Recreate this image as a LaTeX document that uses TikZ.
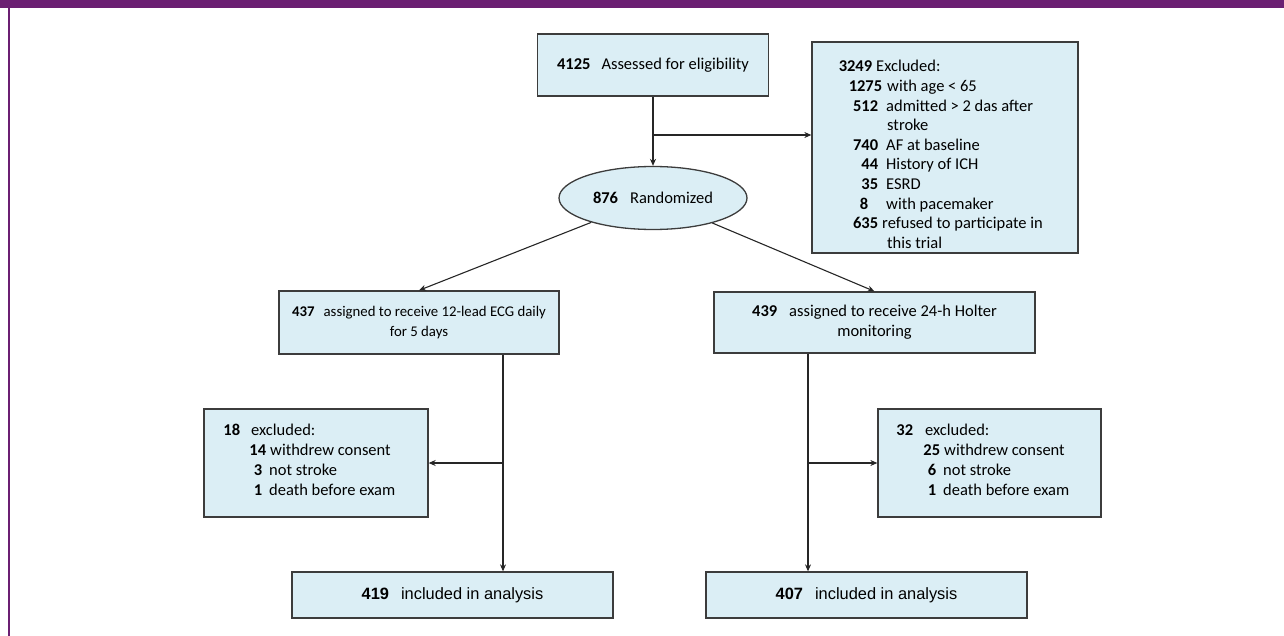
\documentclass[tikz,border=0pt]{standalone}
\usepackage{fontspec}
\setmainfont{Carlito}
\newfontfamily\arialf{Liberation Sans}
\usetikzlibrary{arrows.meta,shapes.geometric}
\definecolor{boxfill}{HTML}{DBEEF5}
\definecolor{boxdraw}{HTML}{3C3C3C}
\definecolor{purp}{HTML}{6B1F72}
\begin{document}
\begin{tikzpicture}[x=1pt,y=-1pt,
  box/.style={draw=boxdraw, line width=1.3pt, fill=boxfill, inner sep=0pt, align=center,
              font=\fontsize{16.5}{19.8}\selectfont},
  conn/.style={draw=black!85, line width=1.1pt},
  arr/.style={conn, -{Stealth[length=7pt,width=6pt]}},
  txt/.style={anchor=base west, inner sep=0pt, font=\fontsize{16.5}{19.8}\selectfont}]
\useasboundingbox (0,0) rectangle (1284,636);
\fill[purp] (0,0) rectangle (1284,8);
\fill[purp] (8,8) rectangle (10,636);

% boxes
\node[box, minimum width=231pt, minimum height=62pt] (A) at (653,65)
  {\textbf{4125}\hspace{11pt}Assessed for eligibility};
\node[box, ellipse, minimum width=188pt, minimum height=63pt] (rand) at (653,198)
  {\textbf{876}\hspace{12pt}Randomized};
\node[box, minimum width=266pt, minimum height=211pt] (X) at (945,147.5) {};
\node[box, minimum width=280pt, minimum height=63pt, font=\fontsize{14.8}{20}\selectfont] (B) at (419,322.5)
  {\textbf{437}\hspace{9pt}assigned to receive 12-lead ECG daily\\for 5 days};
\node[box, minimum width=321pt, minimum height=61pt] (C) at (874.5,322.5)
  {\textbf{439}\hspace{12pt}assigned to receive 24-h Holter\\monitoring};
\node[box, minimum width=224pt, minimum height=108pt] (D) at (316,463) {};
\node[box, minimum width=223pt, minimum height=108pt] (F) at (989.5,463) {};
\node[box, minimum width=321pt, minimum height=46pt, font=\arialf\fontsize{16.4}{19.8}\selectfont] (E) at (452.5,595)
  {\textbf{419}\hspace{12pt}included in analysis};
\node[box, minimum width=321pt, minimum height=46pt, font=\arialf\fontsize{16.4}{19.8}\selectfont] (G) at (866.5,595)
  {\textbf{407}\hspace{12pt}included in analysis};

% text of the large exclusion box
\node[txt] (x1) at (872,72)    {\llap{\textbf{3249}}\hspace{4pt}Excluded:};
\node[txt] (x2) at (882,91.6)  {\llap{\textbf{1275}}\hspace{5pt}with age < 65};
\node[txt] (x3) at (878,111.2) {\llap{\textbf{512}}\hspace{8pt}admitted > 2 das after};
\node[txt] (x4) at (887,130.8) {stroke};
\node[txt] (x5) at (878,150.4) {\llap{\textbf{740}}\hspace{8pt}AF at baseline};
\node[txt] (x6) at (878,170)   {\llap{\textbf{44}}\hspace{8pt}History of ICH};
\node[txt] (x7) at (878,189.6) {\llap{\textbf{35}}\hspace{8pt}ESRD};
\node[txt] (x8) at (868,209.2) {\llap{\textbf{8}}\hspace{18pt}with pacemaker};
\node[txt] (x9) at (878,228.8) {\llap{\textbf{635}}\hspace{4pt}refused to participate in};
\node[txt] (x10) at (887,248.4) {this trial};

% text of left exclusion box
\node[txt] (d1) at (240,435) {\llap{\textbf{18}}\hspace{11pt}excluded:};
\node[txt] (d2) at (266,455) {\llap{\textbf{14}}\hspace{4pt}withdrew consent};
\node[txt] (d3) at (262,475) {\llap{\textbf{3}}\hspace{7pt}not stroke};
\node[txt] (d4) at (262,495) {\llap{\textbf{1}}\hspace{7pt}death before exam};

% text of right exclusion box
\node[txt] (f1) at (913,435) {\llap{\textbf{32}}\hspace{12pt}excluded:};
\node[txt] (f2) at (940,455) {\llap{\textbf{25}}\hspace{4pt}withdrew consent};
\node[txt] (f3) at (936,475) {\llap{\textbf{6}}\hspace{7pt}not stroke};
\node[txt] (f4) at (936,495) {\llap{\textbf{1}}\hspace{7pt}death before exam};

% connectors
\coordinate (j1) at (653,135);
\draw[arr] (A.south) -- (rand.north);
\draw[arr] (j1) -- (j1 -| X.west);
\draw[arr] (rand) -- (B.north);
\draw[arr] (rand) -- (C.north);

\coordinate (bl) at (503,463);
\draw[arr] (B.south -| bl) -- (E.north -| bl);
\draw[arr] (bl) -- (D.east);

\coordinate (br) at (808,463);
\draw[arr] (C.south -| br) -- (G.north -| br);
\draw[arr] (br) -- (F.west);
\end{tikzpicture}
\end{document}
